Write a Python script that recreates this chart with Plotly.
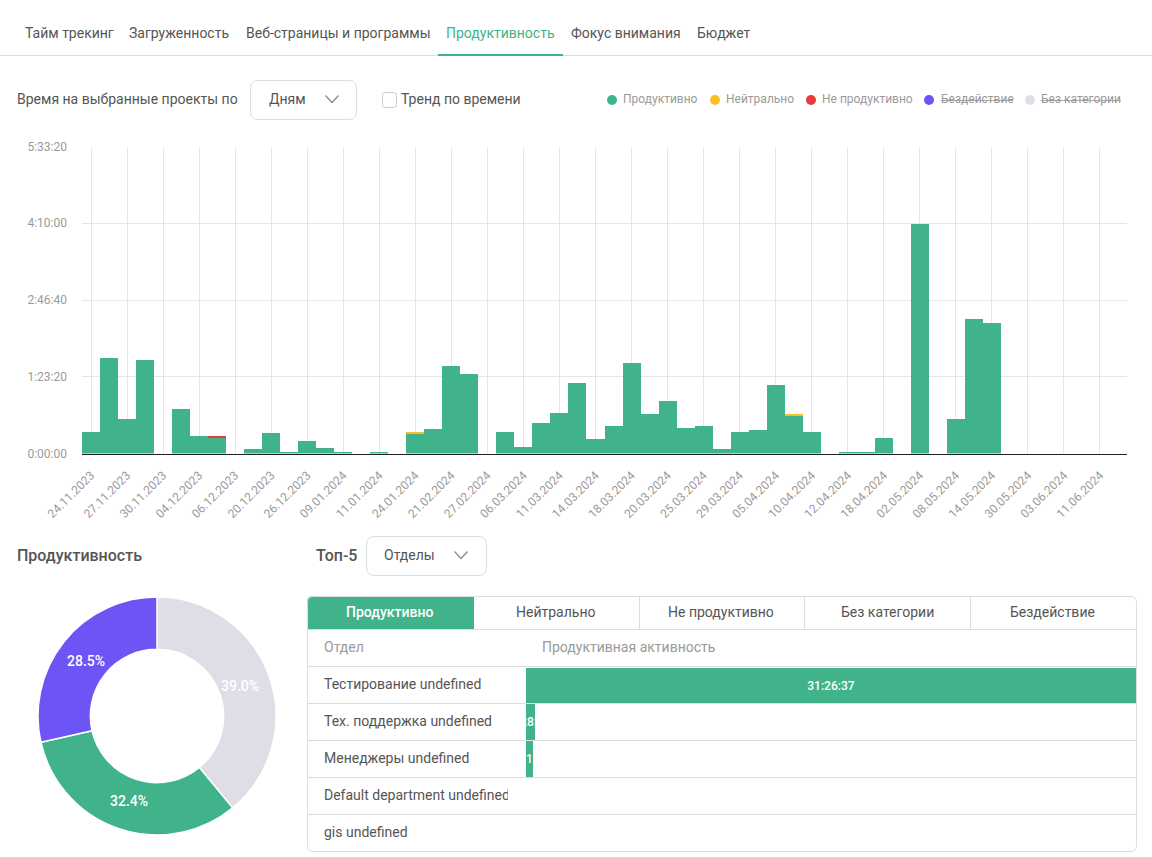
import plotly.graph_objects as go

W = 1152
H = 857

GREEN = '#40b38a'
YELLOW = '#fbbf24'
RED = '#e53a3f'
PURPLE = '#6c54f5'
LIGHT = '#dfdde6'
TEXT = '#555555'
MUTED = '#9a9a9a'
BORDER = '#dddddd'

# Time per day, in seconds
tick_labels = ['24.11.2023', '27.11.2023', '30.11.2023', '04.12.2023', '06.12.2023', '20.12.2023',
               '26.12.2023', '09.01.2024', '11.01.2024', '24.01.2024', '21.02.2024', '27.02.2024',
               '06.03.2024', '11.03.2024', '14.03.2024', '18.03.2024', '20.03.2024', '25.03.2024',
               '29.03.2024', '05.04.2024', '10.04.2024', '12.04.2024', '18.04.2024', '02.05.2024',
               '08.05.2024', '14.05.2024', '30.05.2024', '03.06.2024', '11.06.2024']
productive = [1466, 6222, 2313, 6092, 0, 2900, 1141, 1075, 0, 294, 1336, 98, 815, 359, 163, 0, 98, 0,
              1271, 1597, 5701, 5180, 0, 1401, 424, 1988, 2639, 4594, 945, 1857, 5897, 2574, 3421,
              1662, 1857, 294, 1401, 1532, 4463, 2509, 1401, 0, 163, 83, 1075, 0, 14952, 0, 2248,
              8763, 8503, 0, 0, 0, 0, 0, 0, 0]
neutral = [0, 0, 0, 0, 0, 0, 0, 0, 0, 0, 0, 0, 0, 0, 0, 0, 0, 0,
           195, 0, 0, 0, 0, 0, 0, 0, 0, 0, 0, 0, 0, 0, 0,
           0, 0, 0, 0, 0, 0, 50, 0, 0, 0, 0, 0, 0, 0, 0, 0,
           0, 0, 0, 0, 0, 0, 0, 0, 0]
unproductive = [0, 0, 0, 0, 0, 0, 0, 40, 0, 0, 0, 0, 0, 0, 0, 0, 0, 0,
                0, 0, 0, 0, 0, 0, 0, 0, 0, 0, 0, 0, 0, 0, 0,
                0, 0, 0, 0, 0, 0, 0, 0, 0, 0, 0, 0, 0, 0, 0, 0,
                0, 0, 0, 0, 0, 0, 0, 0, 0]
y_ticks = [0, 5000, 10000, 15000, 20000]
y_labels = ['0:00:00', '1:23:20', '2:46:40', '4:10:00', '5:33:20']

# Donut
pie_labels = ['Без категории', 'Продуктивно', 'Бездействие']
pie_values = [39.0, 32.4, 28.5]

# Top-5 table
departments = ['Тестирование undefined', 'Тех. поддержка undefined', 'Менеджеры undefined',
               'Default department undefined', 'gis undefined']
dept_seconds = [113197, 1694, 1296, 0, 0]
dept_text = ['31:26:37', '0:28:14', '0:21:36', '', '']

nav_items = ['Тайм трекинг', 'Загруженность', 'Веб-страницы и программы', 'Продуктивность',
             'Фокус внимания', 'Бюджет']
legend_items = ['Продуктивно', 'Нейтрально', 'Не продуктивно', 'Бездействие', 'Без категории']
table_tabs = ['Продуктивно', 'Нейтрально', 'Не продуктивно', 'Без категории', 'Бездействие']


def px(x):
    return x / W


def py(y):
    return 1 - y / H


def label(x, y, text, size=14, color=TEXT, anchor='left', weight='normal', **kw):
    # 1px left / 0.5px up makes the annotation box sit where the text sits in the screenshot
    return dict(x=px(x - 1), y=py(y - 0.5), xref='paper', yref='paper', text=text, showarrow=False,
                xanchor=anchor, yanchor='middle', borderpad=0,
                font=dict(family='Roboto', size=size, color=color, weight=weight), **kw)


def line(x0, y0, x1, y1, color=BORDER, width=1):
    return dict(type='line', xref='paper', yref='paper', x0=px(x0), y0=py(y0), x1=px(x1), y1=py(y1),
                line=dict(color=color, width=width), layer='below')


def round_path(x0, y0, x1, y1, r):
    p = [('M', x0 + r, y0), ('L', x1 - r, y0), ('Q', x1, y0, x1, y0 + r), ('L', x1, y1 - r),
         ('Q', x1, y1, x1 - r, y1), ('L', x0 + r, y1), ('Q', x0, y1, x0, y1 - r), ('L', x0, y0 + r),
         ('Q', x0, y0, x0 + r, y0)]
    out = ''
    for seg in p:
        coords = []
        for i, v in enumerate(seg[1:]):
            coords.append(str(px(v)) if i % 2 == 0 else str(py(v)))
        out += seg[0] + ' ' + ' '.join(coords) + ' '
    return out + 'Z'


def round_box(x0, y0, x1, y1, r=6, color=BORDER, fill='rgba(0,0,0,0)'):
    return dict(type='path', xref='paper', yref='paper', path=round_path(x0, y0, x1, y1, r),
                line=dict(color=color, width=1), fillcolor=fill, layer='below')


def chevron(x, y):
    return dict(type='path', xref='paper', yref='paper',
                path=f'M {px(x - 6.5)} {py(y - 3.5)} L {px(x)} {py(y + 3.5)} L {px(x + 6.5)} {py(y - 3.5)}',
                line=dict(color='#888888', width=1.2), layer='above')


def dot(x, y, color, r=5):
    return dict(type='circle', xref='paper', yref='paper', x0=px(x - r), x1=px(x + r),
                y0=py(y - r), y1=py(y + r), fillcolor=color, line=dict(width=0), layer='above')


fig = go.Figure()

# Bars over time
x_pos = list(range(len(productive)))
for name, vals, color in [('Продуктивно', productive, GREEN), ('Нейтрально', neutral, YELLOW),
                          ('Не продуктивно', unproductive, RED)]:
    fig.add_trace(go.Bar(x=x_pos, y=vals, name=name, marker=dict(color=color, line=dict(width=0)),
                         xaxis='x', yaxis='y', showlegend=False))

fig.add_trace(go.Pie(labels=pie_labels, values=pie_values, sort=False, direction='clockwise', rotation=0,
                     hole=0.56, textinfo='none',
                     marker=dict(colors=[LIGHT, GREEN, PURPLE], line=dict(color='white', width=1.5)),
                     domain=dict(x=[px(38), px(276)], y=[py(835), py(597)]), showlegend=False))

fig.add_trace(go.Bar(x=dept_seconds, y=departments, orientation='h', text=dept_text, textposition='inside',
                     insidetextanchor='middle', constraintext='none', textangle=0,
                     textfont=dict(family='Roboto', size=12, color='white', weight=500),
                     marker=dict(color=GREEN, line=dict(width=0)), xaxis='x2', yaxis='y2', showlegend=False))

shapes = [
    line(0, 55.5, W, 55.5),
    line(438, 55, 563, 55, GREEN, 2),
    round_box(250.5, 80.5, 356.5, 119.5, 8),
    chevron(332, 99),
    round_box(382.5, 92.5, 396.5, 107.5, 3, '#cccccc'),
    round_box(366.5, 536.5, 486.5, 575.5, 8),
    chevron(461, 555),
    # table frame, active tab and row lines
    dict(type='path', xref='paper', yref='paper', layer='below', fillcolor=GREEN, line=dict(width=0),
         path=f'M {px(307)} {py(629.5)} L {px(307)} {py(602)} Q {px(307)} {py(596)} {px(313)} {py(596)} '
              f'L {px(474)} {py(596)} L {px(474)} {py(629.5)} Z'),
    round_box(307.5, 596.5, 1136.5, 851.5, 6),
    line(307, 629.5, 1137, 629.5),
    line(639.5, 597, 639.5, 629),
    line(804.5, 597, 804.5, 629),
    line(970.5, 597, 970.5, 629),
]
for y in [666.5, 703.5, 740.5, 777.5, 814.5]:
    shapes.append(line(307, y, 1137, y))

legend_dots = [612, 715, 811, 929, 1030]
for x, c in zip(legend_dots, [GREEN, YELLOW, RED, PURPLE, LIGHT]):
    shapes.append(dot(x, 100, c))
shapes.append(line(941, 100.5, 1013, 100.5, '#a8a8a8', 1))
shapes.append(line(1041, 100.5, 1121, 100.5, '#a8a8a8', 1))

annotations = []
for x, t in zip([25, 129, 246, 446, 571, 697], nav_items):
    annotations.append(label(x, 33, t, color=GREEN if t == 'Продуктивность' else TEXT))
annotations.append(label(17, 99.5, 'Время на выбранные проекты по'))
annotations.append(label(269, 99.5, 'Дням'))
annotations.append(label(401, 99.5, 'Тренд по времени'))
for x, t in zip([623, 726, 822, 941, 1041], legend_items):
    annotations.append(label(x, 100, t, size=12, color=MUTED))
annotations.append(label(17, 555.5, 'Продуктивность', size=16, weight=500))
annotations.append(label(316, 555.5, 'Топ-5', size=16, weight=500))
annotations.append(label(384, 555.5, 'Отделы', size=14))
for x, t in zip([390, 556, 722, 888, 1053], table_tabs):
    if t == 'Продуктивно':
        annotations.append(label(x, 612.5, t, color='white', anchor='center', weight=500))
    else:
        annotations.append(label(x, 612.5, t, anchor='center'))
annotations.append(label(324, 647.5, 'Отдел', color=MUTED))
annotations.append(label(542, 647.5, 'Продуктивная активность', color=MUTED))
for y, t in zip([684.5, 721.5, 758.5, 795.5, 832.5], departments):
    # long names get cut off at the column edge
    annotations.append(label(324, y, t, width=184, height=20, align='left'))
for x, y, v in zip([241, 130, 87], [686.5, 801.5, 661.5], pie_values):
    annotations.append(label(x, y, f'{v:.1f}%', color='white', anchor='center', weight=500))

fig.update_layout(
    template='none',
    width=W, height=H, autosize=False,
    margin=dict(l=0, r=0, t=0, b=0),
    paper_bgcolor='white', plot_bgcolor='rgba(0,0,0,0)',
    barmode='stack', bargap=0,
    font=dict(family='Roboto', color=TEXT),
    shapes=shapes, annotations=annotations,
    xaxis=dict(domain=[px(82), px(1127)], anchor='y', range=[-0.5, 57.5], tickmode='array',
               tickvals=x_pos[::2], ticktext=tick_labels, tickangle=-45, automargin=False,
               tickfont=dict(family='Roboto', size=12, color=MUTED), showgrid=True, gridcolor='#e6e6e6',
               showline=True, linecolor='#222222', linewidth=1, zeroline=False, ticks='',
               ticklabelstandoff=9),
    yaxis=dict(domain=[py(453.5), py(146.5)], anchor='x', range=[0, 20000], tickmode='array', automargin=False,
               tickvals=y_ticks, ticktext=y_labels, tickfont=dict(family='Roboto', size=12, color=MUTED),
               showgrid=True, gridcolor='#e6e6e6', zeroline=False, ticks='', ticklabelstandoff=14),
    xaxis2=dict(domain=[px(526), px(1136)], anchor='y2', range=[0, 113197], visible=False),
    yaxis2=dict(domain=[py(851), py(667)], anchor='x2', autorange='reversed', visible=False,
                categoryorder='array', categoryarray=departments),
)
fig.data[-1].update(width=0.97)

fig.write_html("out.html", config={'displayModeBar': False}, post_script="document.body.style.margin='0';")
